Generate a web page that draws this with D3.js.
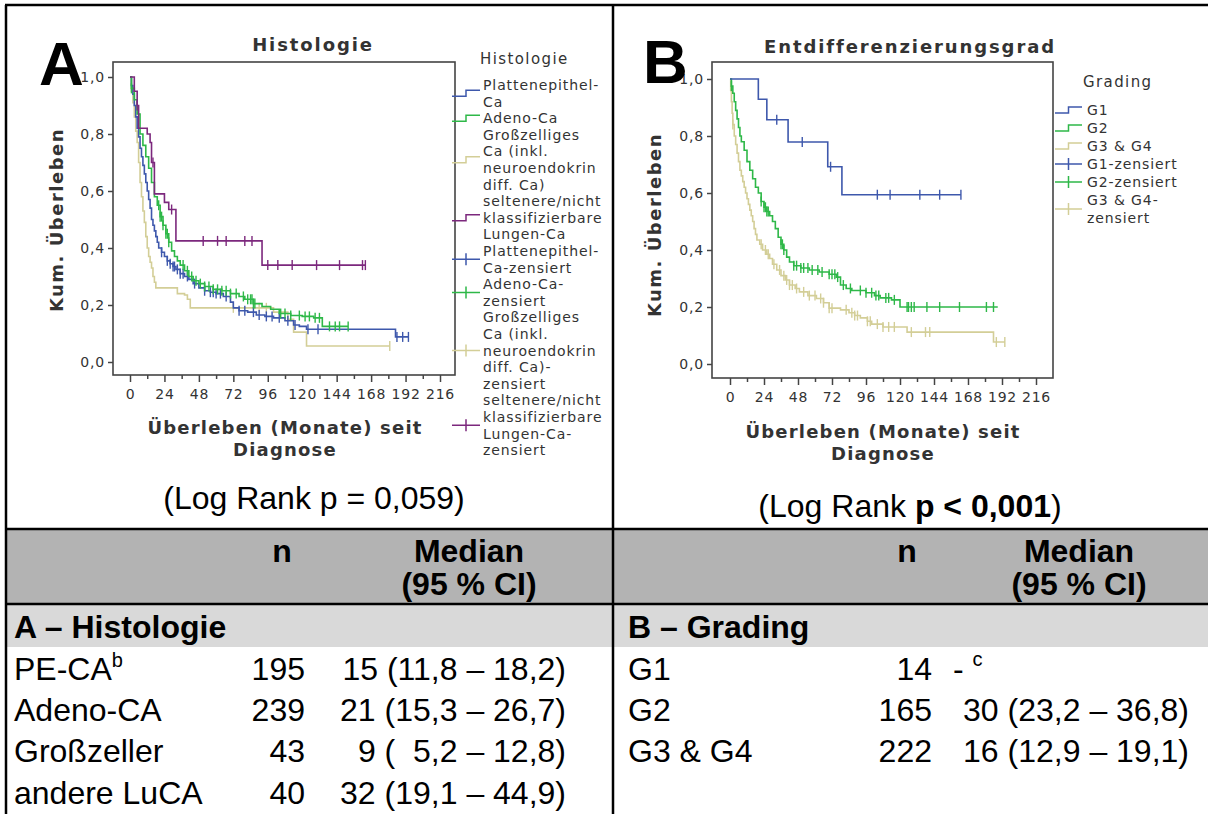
<!DOCTYPE html>
<html>
<head>
<meta charset="utf-8">
<script src="https://d3js.org/d3.v7.min.js"></script>
<style>
  body { margin: 0; background: #fff; }
  svg { display: block; }
  .chart text { font-family: 'DejaVu Sans', sans-serif; fill: #333; }
  .tab text { font-family: 'Liberation Sans', Arial, sans-serif; fill: #000; font-size: 32px; white-space: pre; }
</style>
</head>
<body>
<svg width="1208" height="814"></svg>
<script>
// ---------- data ----------
var monthTicks = [0, 24, 48, 72, 96, 120, 144, 168, 192, 216];
var minorTicks = [12, 36, 60, 84, 108, 132, 156, 180, 204];
var survTicks = [0, 0.2, 0.4, 0.6, 0.8, 1.0];

// panel A - Histologie: [months, survival] steps
var peCurve = [[0,1],[1,0.97],[2,0.94],[3,0.9],[4,0.86],[5,0.82],[6,0.79],[7,0.75],[8,0.72],[9,0.69],[10,0.66],[11,0.63],[12,0.6],[13,0.57],[14,0.54],[15,0.5],[16,0.48],[17,0.46],[18,0.44],[19,0.42],[20,0.4],[22,0.385],[24,0.37],[26,0.355],[28,0.345],[30,0.335],[32,0.325],[35,0.31],[38,0.3],[41,0.29],[44,0.275],[48,0.26],[52,0.25],[56,0.245],[60,0.24],[65,0.23],[70,0.21],[72,0.19],[76,0.18],[82,0.175],[88,0.165],[94,0.16],[100,0.155],[108,0.145],[114,0.13],[118,0.125],[123,0.115],[185,0.088]];
var peEnd = 194;
var peCens = [22,26,28,30,31,33,35,37,40,45,52,56,58,60,63,67,76,80,86,90,95,99,104,110,115,124,131,186,190,194];

var adenoCurve = [[0,1],[1,0.96],[3,0.92],[5,0.87],[7,0.8],[9,0.76],[11,0.72],[13,0.68],[15,0.63],[17,0.58],[19,0.55],[21,0.51],[23,0.48],[25,0.45],[27,0.42],[29,0.39],[31,0.37],[33,0.355],[35,0.34],[38,0.32],[41,0.3],[44,0.285],[48,0.275],[52,0.265],[58,0.255],[64,0.25],[70,0.24],[76,0.23],[80,0.22],[86,0.205],[92,0.195],[98,0.185],[104,0.17],[112,0.163],[120,0.16],[128,0.155],[134,0.125]];
var adenoEnd = 152;
var adenoCens = [1,20,21,22,23,25,26,27,37,40,43,46,49,52,55,58,61,64,67,70,74,79,82,84,85,86,87,105,108,112,118,122,125,129,132,139,143,146,152];

var grossCurve = [[0,1],[1,0.95],[2,0.91],[3,0.86],[4,0.81],[5,0.77],[6,0.7],[7,0.63],[8,0.58],[9,0.53],[10,0.49],[11,0.44],[12,0.4],[13,0.37],[14,0.35],[15,0.33],[16,0.3],[17,0.28],[18,0.26],[33,0.24],[38,0.235],[40,0.22],[42,0.19],[100,0.175],[110,0.15],[114,0.105],[123,0.056]];
var grossEnd = 181;
var grossCens = [72,90,95,181];

var andereCurve = [[0,1],[3,0.95],[5,0.9],[6,0.82],[12,0.8],[14,0.77],[15,0.7],[17,0.59],[24,0.56],[27,0.535],[32,0.425],[92,0.34]];
var andereEnd = 164;
var andereCens = [5,16,29,51,61,67,80,85,96,103,113,130,146,162,164];

// panel B - Grading
var g1Curve = [[0,1],[20,0.929],[26,0.857],[41,0.779],[69,0.692],[79,0.594]];
var g1End = 163;
var g1Cens = [33,51,71,104,113,134,148,163];

var g2Curve = [[0,1],[1,0.975],[2,0.95],[3,0.92],[4,0.89],[5,0.86],[6,0.83],[7,0.8],[8,0.78],[10,0.75],[12,0.71],[14,0.68],[16,0.65],[18,0.62],[20,0.6],[22,0.57],[24,0.55],[26,0.535],[28,0.52],[30,0.5],[32,0.475],[34,0.445],[36,0.42],[38,0.4],[40,0.375],[42,0.358],[45,0.345],[50,0.337],[56,0.33],[63,0.323],[70,0.315],[75,0.305],[78,0.277],[82,0.265],[86,0.258],[96,0.25],[102,0.24],[106,0.232],[114,0.225],[120,0.2]];
var g2End = 189;
var g2Cens = [1,22,24,25,26,27,36,37,38,45,47,50,52,55,58,62,65,70,72,74,76,80,85,92,96,100,103,105,110,112,116,125,126,128,130,139,148,162,181,186];

var g34Curve = [[0,1],[0.5,0.96],[1,0.92],[1.5,0.88],[2,0.84],[3,0.8],[4,0.77],[5,0.74],[6,0.71],[7,0.68],[8,0.66],[9,0.64],[10,0.62],[11,0.6],[12,0.58],[13,0.56],[14,0.54],[15,0.52],[16,0.5],[17,0.475],[18,0.455],[19,0.435],[21,0.42],[23,0.4],[26,0.385],[28,0.37],[30,0.35],[33,0.33],[36,0.31],[39,0.295],[42,0.277],[46,0.265],[49,0.253],[55,0.24],[61,0.23],[66,0.215],[70,0.196],[78,0.19],[84,0.18],[88,0.17],[92,0.162],[97,0.15],[100,0.14],[108,0.13],[125,0.112],[186,0.077]];
var g34End = 194;
var g34Cens = [2,22,25,27,31,35,38,40,42,44,47,52,56,60,64,66,70,72,82,86,88,90,97,99,104,108,112,116,128,138,141,188,194];

var histLegend = [["Plattenepithel-","Ca"],["Adeno-Ca"],["Großzelliges","Ca (inkl.","neuroendokrin","diff. Ca)"],["seltenere/nicht","klassifizierbare","Lungen-Ca"],
  ["Plattenepithel-","Ca-zensiert"],["Adeno-Ca-","zensiert"],["Großzelliges","Ca (inkl.","neuroendokrin","diff. Ca)-","zensiert"],["seltenere/nicht","klassifizierbare","Lungen-Ca-","zensiert"]];
var gradLegend = [["G1"],["G2"],["G3 & G4"],["G1-zensiert"],["G2-zensiert"],["G3 & G4-","zensiert"]];

// table
var histRows = ["PE-CA", "Adeno-CA", "Großzeller", "andere LuCA"];
var histN = [195, 239, 43, 40];
var histMedian = ["15 (11,8 – 18,2)", "21 (15,3 – 26,7)", "9 (  5,2 – 12,8)", "32 (19,1 – 44,9)"];
var gradRows = ["G1", "G2", "G3 & G4"];
var gradN = [14, 165, 222];
var gradMedian = ["-", "30 (23,2 – 36,8)", "16 (12,9 – 19,1)"];

var colBlue = "#3e58ac", colGreen = "#2eb848", colBeige = "#d3ce97", colPurple = "#7c287d";

// ---------- drawing ----------
var svg = d3.select("svg");
svg.append("rect").attr("width", 1208).attr("height", 814).attr("fill", "#fff");

var commaFmt = function(d) { return d3.format(".1f")(d).replace(".", ","); };

function survAt(curve, t) {
  var s = curve[0][1];
  curve.forEach(function(p) { if (p[0] <= t) s = p[1]; });
  return s;
}

function drawPanel(cfg) {
  var g = svg.append("g").attr("class", "chart");
  var x = d3.scaleLinear().domain([0, 216]).range(cfg.xr);
  var y = d3.scaleLinear().domain([0, 1]).range(cfg.yr);
  var f = cfg.frame;

  g.append("rect").attr("x", f[0]).attr("y", f[1]).attr("width", f[2] - f[0]).attr("height", f[3] - f[1])
    .attr("fill", "none").attr("stroke", "#444").attr("stroke-width", 1.6);

  var xAxis = g.append("g").attr("transform", "translate(0," + f[3] + ")")
    .call(d3.axisBottom(x).tickValues(monthTicks).tickSize(7).tickPadding(7));
  g.append("g").attr("transform", "translate(0," + f[3] + ")")
    .call(d3.axisBottom(x).tickValues(minorTicks).tickSize(4).tickFormat(""))
    .select(".domain").remove();
  var yAxis = g.append("g").attr("transform", "translate(" + f[0] + ",0)")
    .call(d3.axisLeft(y).tickValues(survTicks).tickSize(5).tickPadding(3).tickFormat(commaFmt));
  [xAxis, yAxis].forEach(function(a) { a.select(".domain").remove(); });
  g.selectAll(".tick line").attr("stroke", "#444").attr("stroke-width", 1.5);
  g.selectAll(".tick text").attr("font-family", "DejaVu Sans").attr("font-size", 14)
    .attr("letter-spacing", 0.8).attr("fill", "#333");

  var line = d3.line().curve(d3.curveStepAfter)
    .x(function(d) { return x(d[0]); }).y(function(d) { return y(d[1]); });

  cfg.series.forEach(function(s) {
    var pts = s.curve.concat([[s.end, s.curve[s.curve.length - 1][1]]]);
    g.append("path").datum(pts).attr("d", line).attr("fill", "none")
      .attr("stroke", s.color).attr("stroke-width", 1.6);
    g.selectAll(null).data(s.cens).enter().append("line")
      .attr("x1", function(t) { return x(t); }).attr("x2", function(t) { return x(t); })
      .attr("y1", function(t) { return y(survAt(s.curve, t)) - 5; })
      .attr("y2", function(t) { return y(survAt(s.curve, t)) + 5; })
      .attr("stroke", s.color).attr("stroke-width", 1.4);
  });

  // titles
  g.append("text").attr("x", cfg.titleX).attr("y", cfg.titleY).attr("text-anchor", "middle")
    .attr("font-size", 18).attr("font-weight", "bold").attr("letter-spacing", 1.9).text(cfg.title);
  g.append("text").attr("transform", "translate(" + cfg.ylab[0] + "," + cfg.ylab[1] + ") rotate(-90)")
    .attr("text-anchor", "middle").attr("dy", "0.35em")
    .attr("font-size", 18).attr("font-weight", "bold").attr("letter-spacing", 1.5).text("Kum. Überleben");
  ["Überleben (Monate) seit", "Diagnose"].forEach(function(t, i) {
    g.append("text").attr("x", cfg.xlab[0]).attr("y", cfg.xlab[1] + i * 22).attr("text-anchor", "middle")
      .attr("dy", "0.35em").attr("font-size", 18).attr("font-weight", "bold").attr("letter-spacing", 1.2).text(t);
  });

  // legend
  var L = cfg.legend;
  g.append("text").attr("x", L.titleX).attr("y", L.titleY).attr("dy", "0.35em")
    .attr("font-size", 15).attr("letter-spacing", 1.4).text(L.title);
  var idx = 0;
  L.items.forEach(function(lines, k) {
    var ys = lines.map(function(t, i) { return L.y0 + (idx + i) * L.dy; });
    lines.forEach(function(t, i) {
      g.append("text").attr("x", L.textX).attr("y", ys[i]).attr("dy", "0.35em")
        .attr("font-size", 14).attr("letter-spacing", 0.9).text(t);
    });
    idx += lines.length;
    var cy = d3.mean(ys), col = L.colors[k % L.colors.length];
    var x0 = L.symX[0], x1 = L.symX[1], xm = (x0 + x1) / 2;
    if (k < L.colors.length) {
      g.append("path").attr("d", "M" + x0 + "," + (cy + 3) + "H" + xm + "V" + (cy - 3) + "H" + x1)
        .attr("fill", "none").attr("stroke", col).attr("stroke-width", 1.5);
    } else {
      g.append("path").attr("d", "M" + x0 + "," + cy + "H" + x1 + "M" + xm + "," + (cy - 6) + "V" + (cy + 6))
        .attr("fill", "none").attr("stroke", col).attr("stroke-width", 1.5);
    }
  });
}

drawPanel({
  xr: [130, 440], yr: [362, 77], frame: [113, 62, 455, 375],
  title: "Histologie", titleX: 313, titleY: 51, ylab: [57, 220], xlab: [285, 428],
  series: [
    { curve: grossCurve, end: grossEnd, cens: grossCens, color: colBeige },
    { curve: peCurve, end: peEnd, cens: peCens, color: colBlue },
    { curve: adenoCurve, end: adenoEnd, cens: adenoCens, color: colGreen },
    { curve: andereCurve, end: andereEnd, cens: andereCens, color: colPurple }
  ],
  legend: { title: "Histologie", titleX: 480, titleY: 59, textX: 483, symX: [452, 480], y0: 85, dy: 16.6,
    items: histLegend, colors: [colBlue, colGreen, colBeige, colPurple] }
});

drawPanel({
  xr: [730, 1036], yr: [364, 79], frame: [712, 62, 1053, 378],
  title: "Entdifferenzierungsgrad", titleX: 910, titleY: 53, ylab: [655, 225], xlab: [883, 432],
  series: [
    { curve: g34Curve, end: g34End, cens: g34Cens, color: colBeige },
    { curve: g2Curve, end: g2End, cens: g2Cens, color: colGreen },
    { curve: g1Curve, end: g1End, cens: g1Cens, color: colBlue }
  ],
  legend: { title: "Grading", titleX: 1083, titleY: 82, textX: 1087, symX: [1055, 1082], y0: 110, dy: 18,
    items: gradLegend, colors: [colBlue, colGreen, colBeige] }
});

// big panel letters
svg.append("text").attr("x", 39).attr("y", 85).attr("font-family", "Liberation Sans, Arial, sans-serif")
  .attr("font-weight", "bold").attr("font-size", 62).text("A");
svg.append("text").attr("x", 643).attr("y", 83).attr("font-family", "Liberation Sans, Arial, sans-serif")
  .attr("font-weight", "bold").attr("font-size", 62).text("B");

// ---------- table ----------
var tab = svg.append("g").attr("class", "tab");
tab.append("rect").attr("x", 6).attr("y", 529).attr("width", 1202).attr("height", 75).attr("fill", "#b3b3b3");
tab.append("rect").attr("x", 6).attr("y", 604).attr("width", 1202).attr("height", 43).attr("fill", "#d9d9d9");
[[5, 5, 1208, 5], [6, 5, 6, 814], [613, 5, 613, 814], [6, 529, 1208, 529], [6, 604, 1208, 604]].forEach(function(l) {
  tab.append("line").attr("x1", l[0]).attr("y1", l[1]).attr("x2", l[2]).attr("y2", l[3])
    .attr("stroke", "#000").attr("stroke-width", 2.5);
});

// log rank lines
tab.append("text").attr("x", 314).attr("y", 509).attr("text-anchor", "middle").text("(Log Rank p = 0,059)");
var lr = tab.append("text").attr("x", 910).attr("y", 517).attr("text-anchor", "middle");
lr.append("tspan").text("(Log Rank ");
lr.append("tspan").attr("font-weight", "bold").text("p < 0,001");
lr.append("tspan").text(")");

function header(nX, medX) {
  tab.append("text").attr("x", nX).attr("y", 562).attr("text-anchor", "middle").attr("font-weight", "bold").text("n");
  tab.append("text").attr("x", medX).attr("y", 562).attr("text-anchor", "middle").attr("font-weight", "bold").text("Median");
  tab.append("text").attr("x", medX).attr("y", 595).attr("text-anchor", "middle").attr("font-weight", "bold").text("(95 % CI)");
}
header(282, 469);
header(907, 1079);

tab.append("text").attr("x", 14).attr("y", 638).attr("font-weight", "bold").text("A – Histologie");
tab.append("text").attr("x", 628).attr("y", 638).attr("font-weight", "bold").text("B – Grading");

var rowY = [680, 721, 762, 804];
histRows.forEach(function(r, i) {
  var t = tab.append("text").attr("x", 14).attr("y", rowY[i]).text(r);
  if (i === 0) t.append("tspan").attr("dy", -13).attr("font-size", 20).text("b");
  tab.append("text").attr("x", 305).attr("y", rowY[i]).attr("text-anchor", "end").text(histN[i]);
  tab.append("text").attr("x", 566).attr("y", rowY[i]).attr("text-anchor", "end").text(histMedian[i]);
});
gradRows.forEach(function(r, i) {
  tab.append("text").attr("x", 628).attr("y", rowY[i]).text(r);
  tab.append("text").attr("x", 932).attr("y", rowY[i]).attr("text-anchor", "end").text(gradN[i]);
  if (i === 0) {
    var t = tab.append("text").attr("x", 953).attr("y", rowY[i]).text(gradMedian[i] + " ");
    t.append("tspan").attr("dy", -14).attr("font-size", 20).text("c");
  } else {
    tab.append("text").attr("x", 1189).attr("y", rowY[i]).attr("text-anchor", "end").text(gradMedian[i]);
  }
});
</script>
</body>
</html>
